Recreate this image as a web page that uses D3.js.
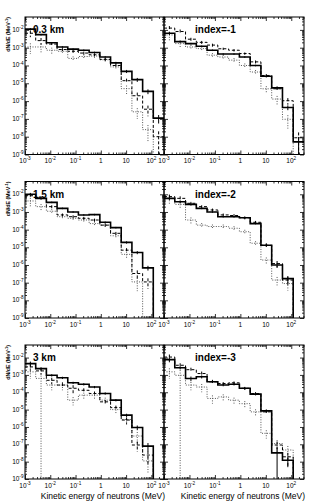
<!DOCTYPE html>
<html>
<head>
<meta charset="utf-8">
<script src="https://cdn.jsdelivr.net/npm/d3@7"></script>
<style>
  body { margin: 0; background: #fff; }
  text { font-family: "Liberation Sans", Arial, sans-serif; fill: #000; }
</style>
</head>
<body>
<div id="chart"></div>
<script>
// bin edges in MeV (13 log bins, 1e-3 .. 10^2.5)
const edges = [0.001, 0.00265, 0.00702, 0.0186, 0.0492, 0.130, 0.345, 0.916, 2.43, 6.42, 17.0, 45.1, 119, 316];

const panelLabels = ["0.3 km", "index=-1", "1.5 km", "index=-2", "3 km", "index=-3"];
const xTickLabels = [-3, -2, -1, 0, 1, 2];   // decades shown on the x axis
const yTickLabels = [-9, -8, -7, -6, -5, -4, -3, -2];

// dN/dE per bin (MeV^-1)
const solid_03km  = [1.1e-2, 5.4e-3, 1.9e-3, 1.1e-3, 8.3e-4, 7.2e-4, 5.4e-4, 3.0e-4, 1.4e-4, 4.7e-5, 1.6e-5, 3.5e-6, 1.1e-7];
const dashed_03km = [6.5e-3, 2.5e-3, 1.6e-3, 7.9e-4, 6.3e-4, 5.0e-4, 4.0e-4, 2.2e-4, 1.0e-4, 1.4e-5, 2.0e-6, 3.5e-7, 1.0e-8];
const dotted_03km = [1.1e-3, 1.1e-3, 7.2e-4, 6.3e-4, 2.5e-4, 3.2e-4, 3.4e-4, 2.1e-4, 8.3e-5, 5.0e-6, 2.5e-7, 2.5e-8, 0];

const solid_idx1  = [6.5e-3, 2.2e-3, 1.7e-3, 1.2e-3, 7.2e-4, 4.4e-4, 4.4e-4, 3.0e-4, 1.0e-4, 2.5e-5, 5.5e-6, 4.4e-7, 5.1e-9];
const dashed_idx1 = [1.26e-2, 8.1e-3, 3.0e-3, 2.0e-3, 1.4e-3, 8.7e-4, 7.2e-4, 4.7e-4, 1.6e-4, 2.75e-5, 4.9e-6, 1.05e-6, 8.7e-9];
const dotted_idx1 = [5.2e-3, 1.7e-3, 1.1e-3, 8.9e-4, 3.8e-4, 3.0e-4, 2.0e-4, 1.0e-4, 4.3e-5, 4.9e-6, 1.3e-6, 9.5e-8, 0];

const solid_15km  = [1.0e-2, 5.9e-3, 3.5e-3, 1.6e-3, 1.0e-3, 6.8e-4, 7.1e-4, 2.6e-4, 1.3e-4, 1.9e-5, 5.1e-6, 6.9e-7, 0];
const dashed_15km = [8.3e-3, 5.9e-3, 2.0e-3, 6.8e-4, 5.4e-4, 4.4e-4, 3.5e-4, 1.8e-4, 6.2e-5, 6.9e-6, 3.3e-7, 1.1e-7, 0];
const dotted_15km = [4.2e-3, 2.0e-3, 1.1e-3, 5.4e-4, 4.4e-4, 3.5e-4, 2.2e-4, 1.8e-4, 4.5e-5, 4.0e-6, 1.1e-7, 0, 0];

const solid_idx2  = [5.9e-3, 3.8e-3, 2.7e-3, 1.6e-3, 1.0e-3, 5.4e-4, 5.4e-4, 4.7e-4, 2.2e-4, 1.3e-5, 1.0e-6, 1.7e-7, 0];
const dashed_idx2 = [7.4e-3, 5.9e-3, 3.1e-3, 2.0e-3, 1.3e-3, 6.8e-4, 6.3e-4, 4.7e-4, 2.6e-4, 1.3e-5, 1.2e-6, 1.4e-7, 0];
const dotted_idx2 = [5.9e-3, 2.7e-3, 3.5e-4, 1.8e-4, 1.5e-4, 1.5e-4, 1.2e-4, 7.6e-5, 1.7e-5, 1.9e-6, 1.4e-7, 8.9e-8, 0];

const solid_3km   = [4.5e-3, 2.3e-3, 9.5e-4, 6.8e-4, 3.5e-4, 2.9e-4, 2.0e-4, 8.5e-5, 3.5e-5, 4.8e-6, 9.3e-7, 7.9e-8, 0];
const dashed_3km  = [2.9e-3, 1.7e-3, 4.9e-4, 2.6e-4, 1.7e-4, 1.3e-4, 8.5e-5, 2.8e-5, 1.3e-5, 2.5e-6, 9.1e-8, 2.4e-8, 0];
const dotted_3km  = [1.5e-3, 6.3e-4, 2.6e-4, 2.6e-4, 3.5e-5, 6.8e-5, 6.8e-5, 3.5e-5, 1.0e-5, 2.7e-6, 3.0e-7, 1.1e-8, 0];

const solid_idx3  = [7.6e-3, 2.6e-3, 6.2e-4, 7.8e-4, 4.0e-4, 2.6e-4, 2.9e-4, 1.7e-4, 7.8e-5, 8.5e-6, 3.2e-8, 1.2e-8, 0];
const dashed_idx3 = [1.07e-2, 3.6e-3, 2.0e-3, 1.2e-3, 4.0e-4, 3.2e-4, 3.5e-4, 1.7e-4, 8.5e-5, 7.4e-6, 9.1e-8, 1.9e-8, 0];
const dotted_idx3 = [1.5e-3, 9.5e-4, 2.6e-4, 2.0e-4, 4.4e-5, 5.4e-5, 3.5e-5, 2.2e-5, 7.4e-6, 4.3e-7, 1.1e-7, 4.7e-8, 0];

// relative errors per bin (>=1 reaches the bottom of the frame)
const err_solid_03km  = [0.15, 0.1, 0.1, 0.1, 0.1, 0.1, 0.1, 0.1, 0.15, 0.2, 0.25, 0.3, 0.5];
const err_dashed_03km = [0.4, 0.4, 0.3, 0.2, 0.2, 0.2, 0.2, 0.2, 0.25, 0.3, 0.5, 0.6, 1];
const err_dotted_03km = [0.6, 0.5, 0.4, 0.3, 0.3, 0.3, 0.25, 0.25, 0.3, 0.5, 0.6, 0.8, 0];
const err_solid_idx1  = [0.2, 0.15, 0.1, 0.1, 0.1, 0.1, 0.1, 0.1, 0.1, 0.15, 0.2, 0.3, 0.9];
const err_dashed_idx1 = [0.3, 0.3, 0.2, 0.2, 0.2, 0.15, 0.15, 0.15, 0.2, 0.2, 0.3, 0.4, 1];
const err_dotted_idx1 = [0.5, 0.4, 0.3, 0.3, 0.3, 0.3, 0.3, 0.3, 0.3, 0.4, 0.5, 0.7, 0];
const err_solid_15km  = [0.2, 0.15, 0.1, 0.1, 0.1, 0.1, 0.1, 0.1, 0.1, 0.15, 0.2, 0.3, 0];
const err_dashed_15km = [0.3, 0.3, 0.2, 0.2, 0.2, 0.2, 0.2, 0.2, 0.2, 0.3, 0.5, 0.6, 0];
const err_dotted_15km = [0.5, 0.4, 0.3, 0.3, 0.3, 0.3, 0.3, 0.3, 0.3, 0.4, 0.7, 0, 0];
const err_solid_idx2  = [0.2, 0.2, 0.15, 0.1, 0.1, 0.1, 0.1, 0.1, 0.1, 0.2, 0.3, 0.4, 0];
const err_dashed_idx2 = [0.3, 0.3, 0.2, 0.2, 0.2, 0.2, 0.2, 0.2, 0.2, 0.3, 0.4, 0.5, 0];
const err_dotted_idx2 = [0.5, 0.4, 0.4, 0.3, 0.3, 0.3, 0.3, 0.3, 0.3, 0.4, 0.5, 0.6, 0];
const err_solid_3km   = [0.3, 0.2, 0.15, 0.15, 0.15, 0.15, 0.15, 0.15, 0.15, 0.2, 0.3, 0.5, 0];
const err_dashed_3km  = [0.4, 0.4, 0.4, 0.3, 0.5, 0.3, 0.3, 0.3, 0.3, 0.4, 0.6, 0.7, 0];
const err_dotted_3km  = [0.6, 1, 0.5, 0.5, 0.5, 0.4, 0.4, 0.4, 0.4, 0.5, 0.7, 0.8, 0];
const err_solid_idx3  = [0.3, 0.2, 0.3, 0.2, 0.15, 0.15, 0.15, 0.15, 0.15, 0.2, 1, 0.6, 0];
const err_dashed_idx3 = [0.4, 0.3, 0.3, 0.3, 0.3, 0.2, 0.2, 0.2, 0.2, 0.3, 0.6, 0.7, 0];
const err_dotted_idx3 = [0.6, 1, 0.5, 0.5, 0.5, 0.4, 0.4, 0.4, 0.4, 0.5, 0.6, 0.7, 0];

const panels = [
  {label: panelLabels[0], vals: [solid_03km, dashed_03km, dotted_03km], errs: [err_solid_03km, err_dashed_03km, err_dotted_03km]},
  {label: panelLabels[1], vals: [solid_idx1, dashed_idx1, dotted_idx1], errs: [err_solid_idx1, err_dashed_idx1, err_dotted_idx1]},
  {label: panelLabels[2], vals: [solid_15km, dashed_15km, dotted_15km], errs: [err_solid_15km, err_dashed_15km, err_dotted_15km]},
  {label: panelLabels[3], vals: [solid_idx2, dashed_idx2, dotted_idx2], errs: [err_solid_idx2, err_dashed_idx2, err_dotted_idx2]},
  {label: panelLabels[4], vals: [solid_3km, dashed_3km, dotted_3km], errs: [err_solid_3km, err_dashed_3km, err_dotted_3km]},
  {label: panelLabels[5], vals: [solid_idx3, dashed_idx3, dotted_idx3], errs: [err_solid_idx3, err_dashed_idx3, err_dotted_idx3]}
];

// line styles: solid, dashed, dotted
const styles = [
  {color: "#000", width: 1.6, dash: null},
  {color: "#000", width: 1, dash: "3,2"},
  {color: "#555", width: 1, dash: "1,1.5"}
];

// layout of the 3x2 grid
const width = 332, height = 504;
const cols = [[25, 164], [164, 304]];
const rows = [[17, 154.5], [181.5, 318], [345, 479]];
const yMin = 1e-9, yMax = 0.053;

const svg = d3.select("#chart")
  .append("svg")
    .attr("width", width)
    .attr("height", height);

// log minor ticks between decades
function minorTicks(lo, hi) {
  const t = [];
  for (let e = Math.floor(Math.log10(lo)); e <= Math.ceil(Math.log10(hi)); e++)
    for (let m = 2; m <= 9; m++) {
      const v = m * Math.pow(10, e);
      if (v > lo && v < hi) t.push(v);
    }
  return t;
}

// "10" with superscript exponent
function powText(sel, e, size) {
  sel.text(null);
  if (e === 0) { sel.text("1"); return; }
  if (e === 1) { sel.text("10"); return; }
  sel.append("tspan").text("10");
  sel.append("tspan").attr("dy", -size * 0.45).attr("font-size", size * 0.72).text(e < 0 ? "-" + (-e) : e);
}

panels.forEach(function(p, i) {
  const c = i % 2, r = Math.floor(i / 2);
  const x0 = cols[c][0], x1 = cols[c][1], y0 = rows[r][0], y1 = rows[r][1];

  const x = d3.scaleLog().domain([edges[0], edges[edges.length - 1]]).range([x0, x1]);
  const y = d3.scaleLog().domain([yMin, yMax]).range([y1, y0]);

  const g = svg.append("g");
  const clipId = "clip" + i;
  g.append("clipPath").attr("id", clipId)
    .append("rect").attr("x", x0).attr("y", y0).attr("width", x1 - x0).attr("height", y1 - y0);

  const plot = g.append("g").attr("clip-path", `url(#${clipId})`);

  // histograms, drawn dotted first so solid ends on top
  [2, 1, 0].forEach(function(s) {
    const vals = p.vals[s], errs = p.errs[s], st = styles[s];
    const yv = v => v > 0 ? y(v) : y1 + 20;
    const pts = [];
    vals.forEach(function(v, k) {
      pts.push([x(edges[k]), yv(v)]);
      pts.push([x(edges[k + 1]), yv(v)]);
    });
    plot.append("path")
      .attr("d", d3.line()(pts))
      .attr("fill", "none")
      .attr("stroke", st.color)
      .attr("stroke-width", st.width)
      .attr("stroke-dasharray", st.dash);

    // error bars at bin centres
    const bars = vals.map((v, k) => ({v: v, e: errs[k], xc: Math.sqrt(edges[k] * edges[k + 1])}))
      .filter(d => d.v > 0 && d.e > 0);
    plot.selectAll(null).data(bars).join("line")
      .attr("x1", d => x(d.xc)).attr("x2", d => x(d.xc))
      .attr("y1", d => y(d.v * (1 + d.e)))
      .attr("y2", d => d.e >= 1 ? y1 + 5 : y(d.v * (1 - d.e)))
      .attr("stroke", st.color)
      .attr("stroke-width", Math.min(st.width, 1))
      .attr("stroke-dasharray", st.dash);
  });

  // frame
  g.append("rect")
    .attr("x", x0).attr("y", y0).attr("width", x1 - x0).attr("height", y1 - y0)
    .attr("fill", "none").attr("stroke", "#000").attr("stroke-width", 1);

  const majX = xTickLabels.map(e => Math.pow(10, e));
  const minX = minorTicks(edges[0], edges[edges.length - 1]);
  const majY = yTickLabels.map(e => Math.pow(10, e));
  const minY = minorTicks(yMin, yMax);

  // x ticks, bottom and top
  [[d3.axisBottom, y1, -4, majX], [d3.axisBottom, y1, -2, minX],
   [d3.axisTop, y0, -4, majX], [d3.axisTop, y0, -2, minX]].forEach(function(a) {
    const ax = g.append("g").attr("transform", `translate(0,${a[1]})`)
      .call(a[0](x).tickValues(a[3]).tickSize(a[2]).tickFormat(""));
    ax.select(".domain").remove();
    ax.selectAll("line").attr("stroke-width", 0.8);
  });

  // y ticks, left and right
  [[d3.axisLeft, x0, -4, majY], [d3.axisLeft, x0, -2, minY],
   [d3.axisRight, x1, -4, majY], [d3.axisRight, x1, -2, minY]].forEach(function(a) {
    const ax = g.append("g").attr("transform", `translate(${a[1]},0)`)
      .call(a[0](y).tickValues(a[3]).tickSize(a[2]).tickFormat(""));
    ax.select(".domain").remove();
    ax.selectAll("line").attr("stroke-width", 0.8);
  });

  // x tick labels
  const fs = 6.5;
  g.selectAll(null).data(xTickLabels).join("text")
    .attr("x", d => x(Math.pow(10, d)))
    .attr("y", y1 + 8.5)
    .attr("text-anchor", "middle")
    .attr("font-size", fs)
    .each(function(d) { powText(d3.select(this), d, fs); });

  // y tick labels on the left column only
  if (c === 0) {
    g.selectAll(null).data(yTickLabels).join("text")
      .attr("x", x0 - 1.5)
      .attr("y", d => y(Math.pow(10, d)) + 2)
      .attr("text-anchor", "end")
      .attr("font-size", fs)
      .each(function(d) { powText(d3.select(this), d, fs); });

    // y title
    const t = g.append("text")
      .attr("transform", `translate(${x0 - 15},${y0}) rotate(-90)`)
      .attr("text-anchor", "end")
      .attr("font-size", 5.3)
      .attr("font-weight", "bold");
    t.append("tspan").text("dN/dE (MeV");
    t.append("tspan").attr("dy", -2).attr("font-size", 4).text("-1");
    t.append("tspan").attr("dy", 2).text(")");
  }

  // panel label
  g.append("text")
    .attr("x", c === 0 ? x0 + 8 : x0 + 31)
    .attr("y", y0 + 16)
    .attr("font-size", 10)
    .attr("font-weight", "bold")
    .text(p.label);

  // x title on the bottom row
  if (r === 2) {
    g.append("text")
      .attr("x", x1 + 1)
      .attr("y", height - 5)
      .attr("text-anchor", "end")
      .attr("font-size", 8.5)
      .text("Kinetic energy of neutrons (MeV)");
  }
});
</script>
</body>
</html>
